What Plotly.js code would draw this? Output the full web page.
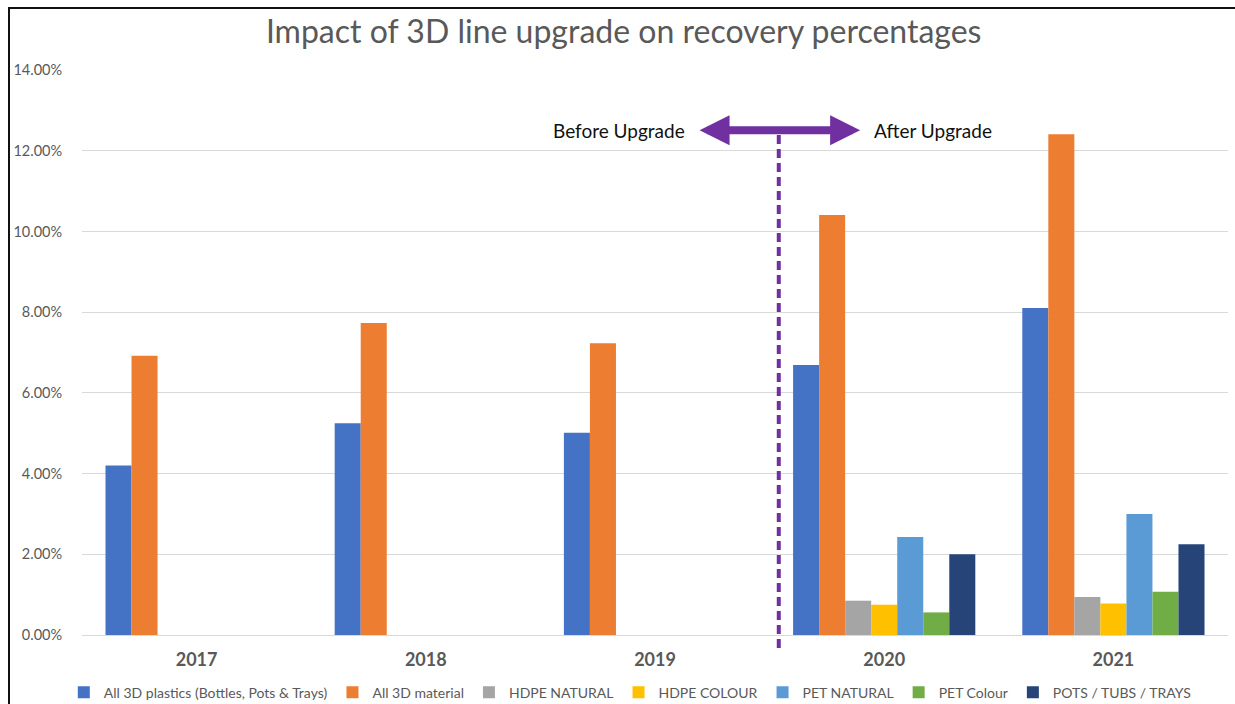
<!DOCTYPE html>
<html>
<head>
<meta charset="utf-8">
<script src="https://cdn.plot.ly/plotly-3.0.1.min.js"></script>
<style>
  html, body { margin: 0; padding: 0; background: #ffffff; overflow: hidden; width: 1235px; height: 704px; }
  #frame { position: absolute; left: 8px; top: 7px; width: 1300px; height: 760px;
           border-left: 2px solid #111; border-top: 2px solid #111; pointer-events: none; }
  #chart { position: absolute; left: 0; top: 0; width: 1235px; height: 704px; }
</style>
</head>
<body>
<div id="chart"></div>
<div id="frame"></div>
<script>
const years = ["2017", "2018", "2019", "2020", "2021"];
const seriesNames = [
  "All 3D plastics (Bottles, Pots & Trays)",
  "All 3D material",
  "HDPE NATURAL",
  "HDPE COLOUR",
  "PET NATURAL",
  "PET Colour",
  "POTS / TUBS / TRAYS"
];
const allPlastics = [0.0420, 0.0525, 0.0501, 0.0669, 0.0810];
const allMaterial = [0.0692, 0.0773, 0.0723, 0.1041, 0.1241];
const hdpeNatural = [null, null, null, 0.0085, 0.0094];
const hdpeColour  = [null, null, null, 0.0075, 0.0078];
const petNatural  = [null, null, null, 0.0243, 0.0300];
const petColour   = [null, null, null, 0.0056, 0.0107];
const potsTubs    = [null, null, null, 0.0200, 0.0225];
const colors = ["#4472c4", "#ed7d31", "#a5a5a5", "#ffc000", "#5b9bd5", "#70ad47", "#264478"];
const yTickVals = [0, 0.02, 0.04, 0.06, 0.08, 0.10, 0.12, 0.14];

const values = [allPlastics, allMaterial, hdpeNatural, hdpeColour, petNatural, petColour, potsTubs];
const FONT = "Lato, 'Liberation Sans', sans-serif";

const data = values.map((v, i) => ({
  type: "bar",
  name: seriesNames[i],
  x: years,
  y: v,
  marker: { color: colors[i] },
  hoverinfo: "x+y+name"
}));

const purple = "#7030a0";
const layout = {
  width: 1235, height: 704,
  margin: { l: 82, r: 7, t: 70, b: 69, autoexpand: false },
  paper_bgcolor: "rgba(0,0,0,0)",
  plot_bgcolor: "rgba(0,0,0,0)",
  font: { family: FONT, color: "#595959" },
  title: {
    text: "Impact of 3D line upgrade on recovery percentages",
    font: { family: FONT, size: 32, color: "#595959" },
    x: 0.505, xanchor: "center", y: 0.955, yanchor: "middle"
  },
  barmode: "group",
  bargap: 0.205,
  bargroupgap: 0,
  showlegend: true,
  legend: {
    orientation: "h", x: 0.478, xanchor: "center",
    yref: "container", y: 0.016, yanchor: "middle",
    font: { family: FONT, size: 14, color: "#595959" },
    itemwidth: 30, tracegroupgap: 0, traceorder: "normal"
  },
  xaxis: {
    type: "category",
    tickfont: { family: FONT, size: 18, color: "#595959", weight: "bold" },
    showgrid: false, zeroline: false,
    showline: true, linecolor: "#d9d9d9", linewidth: 1,
    ticks: "outside", ticklen: 8, tickcolor: "rgba(0,0,0,0)"
  },
  yaxis: {
    range: [0, 0.14],
    tickvals: yTickVals,
    tickformat: ".2%",
    tickfont: { family: FONT, size: 14.5, color: "#595959" },
    showgrid: true, gridcolor: "#d9d9d9", gridwidth: 1,
    zeroline: false, showline: false,
    ticks: "outside", ticklen: 16, tickcolor: "rgba(0,0,0,0)"
  },
  shapes: [{
    type: "line", xref: "x", yref: "paper",
    x0: 2.54, x1: 2.54, y0: -0.023, y1: 0.895,
    line: { color: purple, width: 4, dash: "9px,5px" }
  }],
  annotations: [
    {
      xref: "x", yref: "y", axref: "x", ayref: "y",
      x: 2.895, y: 0.1251, ax: 2.188, ay: 0.1251,
      text: "", showarrow: true, arrowside: "end+start",
      arrowhead: 2, arrowsize: 0.75, arrowwidth: 8, arrowcolor: purple,
      standoff: 0, startstandoff: 0
    },
    {
      xref: "x", yref: "y", x: 2.14, y: 0.1251, xanchor: "right", yanchor: "middle",
      text: "Before Upgrade", showarrow: false,
      font: { family: FONT, size: 19, color: "#111" }
    },
    {
      xref: "x", yref: "y", x: 2.945, y: 0.1251, xanchor: "left", yanchor: "middle",
      text: "After Upgrade", showarrow: false,
      font: { family: FONT, size: 19, color: "#111" }
    }
  ]
};

Plotly.newPlot("chart", data, layout, { displayModeBar: false, responsive: false });
</script>
</body>
</html>
